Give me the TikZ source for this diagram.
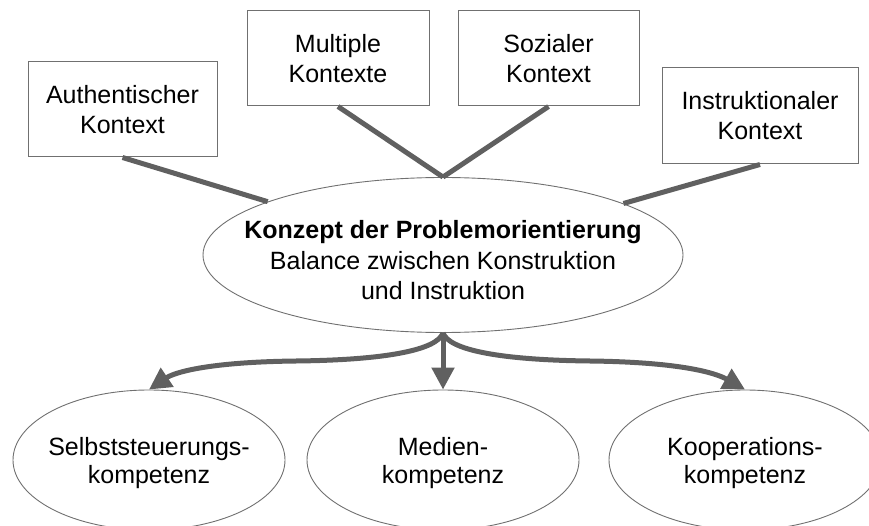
\documentclass[tikz,border=0pt]{standalone}
\usepackage{fontspec}
\setmainfont{Liberation Sans}
\usetikzlibrary{arrows.meta,shapes.geometric}
\definecolor{conn}{HTML}{606060}
\definecolor{outl}{HTML}{707070}
\begin{document}
\begin{tikzpicture}[x=1pt,y=-1pt,
  every node/.style={font=\fontsize{25}{30}\selectfont},
  box/.style={draw=outl, line width=1pt, rectangle, minimum height=95, inner sep=0, align=center},
  ell/.style={draw=outl, line width=0.9pt, ellipse, inner sep=0},
  txt/.style={align=center, inner sep=0},
  link/.style={draw=conn, line width=5pt},
  arr/.style={draw=conn, line width=5pt, -{Triangle[length=22pt,width=22pt]}},
]
\useasboundingbox (0,0) rectangle (869,526);
\clip (0,0) rectangle (869,526);

% top boxes
\node[box, minimum width=189] (auth) at (122.5,109.5) {Authentischer\\Kontext};
\node[box, minimum width=182] (mult) at (338,58.5) {Multiple\\Kontexte};
\node[box, minimum width=181] (soz) at (548.5,58.5) {Sozialer\\Kontext};
\node[box, minimum width=196, minimum height=96] (instr) at (760,116) {Instruktionaler\\Kontext};

% central ellipse
\node[ell, minimum width=480, minimum height=155] (c) at (443,255) {};
\node[txt, font=\fontsize{25}{30.5}\selectfont] (ctext) at (443,260.5) {\textbf{Konzept der Problemorientierung}\\Balance zwischen Konstruktion\\und Instruktion};

% bottom ellipses
\node[ell, minimum width=272, minimum height=140] (l) at (149,460) {};
\node[ell, minimum width=272, minimum height=140] (m) at (443,460) {};
\node[ell, minimum width=272, minimum height=140] (r) at (745,460) {};
\node[txt, font=\fontsize{25}{28}\selectfont] (ltext) at (149,463) {Selbststeuerungs-\\kompetenz};
\node[txt, font=\fontsize{25}{28}\selectfont] (mtext) at (443,463) {Medien-\\kompetenz};
\node[txt, font=\fontsize{25}{28}\selectfont] (rtext) at (745,463) {Kooperations-\\kompetenz};

% links from boxes
\draw[link] (auth.south) -- (c);
\draw[link] (mult.south) -- (c.north);
\draw[link] (soz.south) -- (c.north);
\draw[link] (instr.south) -- (c);

% arrows
\coordinate (lm) at (296,361);
\coordinate (rm) at (590,361);
\draw[arr] (c.south) .. controls (437,350) and (386,360) .. (lm) .. controls (210,362) and (175,372) .. (l.north);
\draw[arr] (c.south) -- (m.north);
\draw[arr] (c.south) .. controls (449,350) and (500,360) .. (rm) .. controls (676,362) and (714,372) .. (r.north);
\end{tikzpicture}
\end{document}
